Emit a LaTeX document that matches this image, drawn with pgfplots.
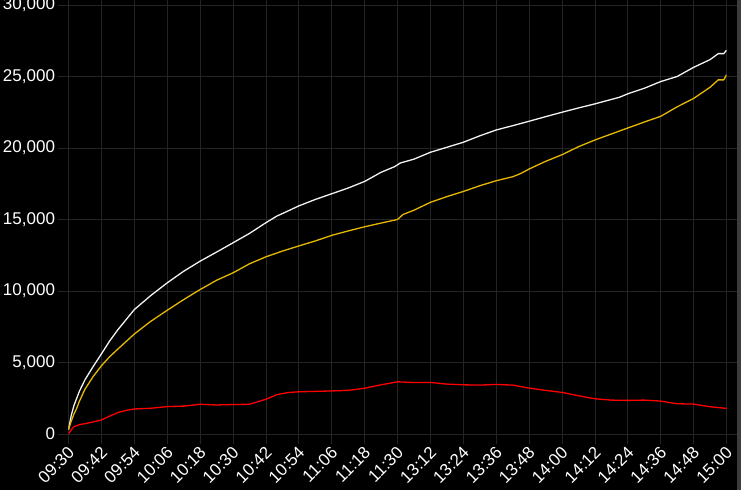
\documentclass[border=0pt]{standalone}
\usepackage{pgfplots}
\pgfplotsset{compat=1.18}
\usepackage{fontspec}
\setmainfont{Liberation Sans}
\definecolor{gridc}{HTML}{242424}
\definecolor{wline}{HTML}{F2F2F2}
\definecolor{gline}{HTML}{E6B800}
\definecolor{rline}{HTML}{FF0000}
\definecolor{sbar}{HTML}{3C3C3C}
\begin{document}
\begin{tikzpicture}[x=1bp,y=1bp]
\fill[black] (-68.5,-56) rectangle (672.5,434);
\fill[sbar] (668,-56) rectangle (672.5,434);
\path[use as bounding box] (-68.5,-56) rectangle (672.5,434);
\begin{axis}[
  at={(0,0)}, anchor=south west,
  scale only axis, width=658bp, height=429bp,
  xmin=0, xmax=240, ymin=0, ymax=30000,
  xtick={0,12,...,240},
  xticklabels={09:30,09:42,09:54,10:06,10:18,10:30,10:42,10:54,11:06,11:18,11:30,13:12,13:24,13:36,13:48,14:00,14:12,14:24,14:36,14:48,15:00},
  ytick={0,5000,...,30000},
  scaled y ticks=false,
  /pgf/number format/.cd, 1000 sep={,}, assume math mode=true, /pgfplots/.cd,
  grid=major,
  major grid style={gridc, line width=0.8bp},
  axis line style={gridc, line width=0.8bp},
  tick style={gridc, line width=0.8bp},
  tick align=outside, major tick length=10bp,
  ticklabel style={font=\fontsize{17bp}{20bp}\selectfont, text=white},
  xticklabel style={rotate=45, anchor=east, inner sep=2bp, yshift=-6bp},
  yticklabel style={anchor=east},
  every axis plot/.append style={line width=1.3bp, line join=round},
]
\addplot[wline] coordinates {
(0,300)(1,1300)(2,2000)(3,2500)(4,3000)(6,3790)(9,4720)(12,5600)(15,6500)(18,7290)
(24,8700)(30,9680)(36,10570)(42,11380)(48,12085)(54,12720)(60,13370)(66,14025)(72,14775)
(76,15240)(80,15590)(84,15950)(90,16400)(96,16800)(102,17200)(108,17660)(114,18300)
(119,18700)(121,18950)(126,19220)(132,19700)(138,20050)(144,20400)(150,20850)(156,21260)
(162,21560)(168,21870)(174,22190)(180,22500)(186,22800)(192,23085)(201,23550)(204,23790)
(210,24175)(216,24645)(222,25000)(228,25640)(234,26180)(237,26600)(239,26600)(240,26840)
};
\addplot[gline] coordinates {
(0,300)(1,900)(2,1400)(3,1800)(4,2300)(6,3130)(9,4020)(12,4770)(15,5400)(18,5940)
(24,6990)(30,7880)(36,8650)(42,9400)(48,10100)(54,10750)(60,11270)(66,11900)(72,12390)
(78,12790)(84,13150)(90,13500)(96,13890)(102,14200)(108,14490)(114,14750)(120,15000)
(122,15350)(126,15650)(132,16200)(138,16600)(144,16960)(150,17360)(156,17710)(162,17990)
(165,18220)(168,18530)(174,19065)(180,19530)(186,20090)(192,20560)(198,20980)(204,21400)
(210,21815)(216,22215)(222,22880)(228,23465)(234,24245)(237,24765)(239,24765)(240,25120)
};
\addplot[rline] coordinates {
(0,0)(1,300)(2,510)(4,650)(8,800)(12,980)(15,1250)(18,1500)(21,1650)(24,1750)(30,1800)
(36,1915)(42,1950)(48,2080)(54,2030)(60,2060)(66,2080)(72,2430)(76,2750)(80,2900)(84,2950)
(90,2980)(96,3010)(102,3050)(108,3200)(114,3440)(120,3650)(126,3600)(132,3605)(138,3490)
(144,3440)(150,3420)(156,3465)(162,3420)(168,3210)(174,3050)(180,2910)(186,2675)(192,2465)
(198,2370)(204,2350)(210,2370)(216,2300)(222,2115)(228,2090)(234,1905)(240,1790)
};
\end{axis}
\end{tikzpicture}
\end{document}
